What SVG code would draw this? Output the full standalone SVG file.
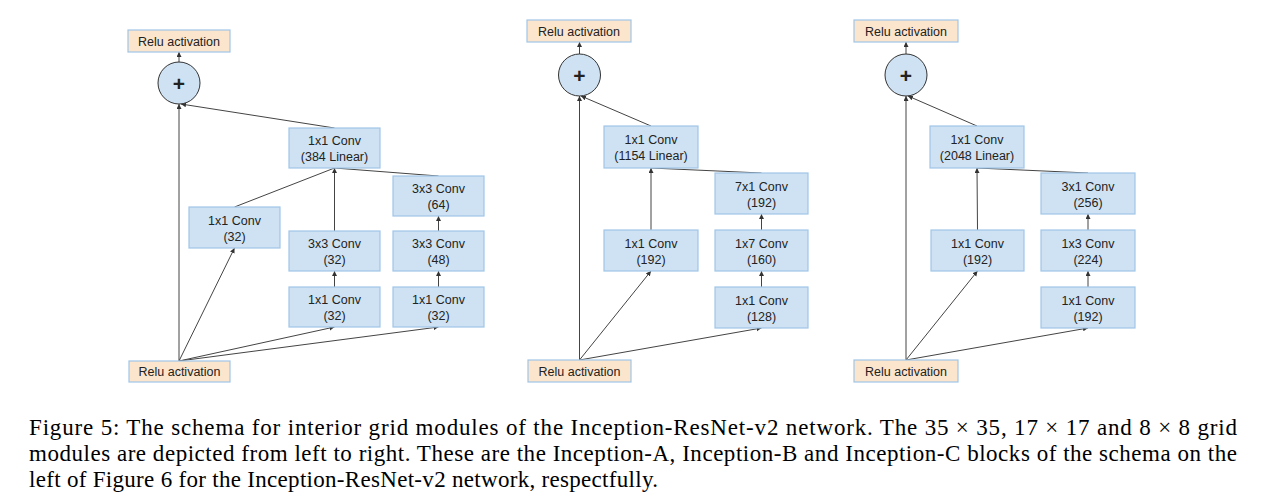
<svg xmlns="http://www.w3.org/2000/svg" width="1272" height="497" viewBox="0 0 1272 497">
<style>
.box{fill:#cfe2f3;stroke:#9fc5e8;stroke-width:1.2}
.relu{fill:#fce5cd;stroke:#9fc5e8;stroke-width:1.2}
.add{fill:#cfe2f3;stroke:#333;stroke-width:1}
.t{font-family:"Liberation Sans",Arial,sans-serif;font-size:12.5px;fill:#222;text-anchor:middle}
.plus{font-family:"Liberation Sans",Arial,sans-serif;font-size:21px;font-weight:bold;fill:#222;text-anchor:middle}
.c{fill:none;stroke:#444;stroke-width:1}
.a{marker-end:url(#ah)}
.cap{font-family:"Liberation Serif","Times New Roman",serif;font-size:23px;fill:#000}
</style>
<defs>
<marker id="ah" markerUnits="userSpaceOnUse" markerWidth="6" markerHeight="6" refX="5" refY="2.5" orient="auto">
<path d="M0,0 L5,2.5 L0,5 z" fill="#333"/>
</marker>
</defs>
<rect width="1272" height="497" fill="#fff"/>
<g id="connectors">
<path class="c a" d="M179,361 L179,104"/>
<path class="c a" d="M179,361 L234.5,248"/>
<path class="c a" d="M179,361 L334.5,327"/>
<path class="c a" d="M179,361 L438.5,327"/>
<path class="c a" d="M334.5,287 L334.5,271"/>
<path class="c a" d="M438.5,287 L438.5,271"/>
<path class="c a" d="M438.5,231 L438.5,216"/>
<path class="c" d="M234.5,207 L334.5,168"/>
<path class="c a" d="M334.5,231 L334.5,168"/>
<path class="c" d="M438.5,176 L334.5,168"/>
<path class="c a" d="M334.5,128 L181,104"/>
<path class="c a" d="M179,62 L179,52"/>
<path class="c a" d="M579.5,360 L579.5,96"/>
<path class="c a" d="M579.5,360 L651,271"/>
<path class="c a" d="M579.5,360 L761.5,328"/>
<path class="c a" d="M761.5,287 L761.5,271"/>
<path class="c a" d="M761.5,230 L761.5,214"/>
<path class="c a" d="M651,230 L651,168"/>
<path class="c" d="M761.5,173 L651,168"/>
<path class="c a" d="M651,126 L581,96"/>
<path class="c a" d="M579.5,54 L579.5,42"/>
<path class="c a" d="M906,360 L906,96"/>
<path class="c a" d="M906,360 L977.5,271"/>
<path class="c a" d="M906,360 L1088,328"/>
<path class="c a" d="M1088,287 L1088,271"/>
<path class="c a" d="M1088,230 L1088,214"/>
<path class="c a" d="M977.5,230 L977,168"/>
<path class="c" d="M1088,173 L977,168"/>
<path class="c a" d="M977,126 L908,96"/>
<path class="c a" d="M906,54 L906,42"/>
</g>
<g id="a_relu_top"><rect class="relu" x="128" y="30" width="102" height="22"/><text class="t" x="179" y="46">Relu activation</text></g>
<g id="a_add"><circle class="add" cx="179" cy="83" r="21"/><text class="plus" x="179" y="90.5">+</text></g>
<g id="a_lin"><rect class="box" x="289" y="128" width="91" height="40"/><text class="t" x="334.5" y="145">1x1 Conv</text><text class="t" x="334.5" y="160.5">(384 Linear)</text></g>
<g id="a_c64"><rect class="box" x="393" y="176" width="91" height="40"/><text class="t" x="438.5" y="193">3x3 Conv</text><text class="t" x="438.5" y="208.5">(64)</text></g>
<g id="a_b1"><rect class="box" x="189" y="207" width="91" height="41"/><text class="t" x="234.5" y="225">1x1 Conv</text><text class="t" x="234.5" y="240.5">(32)</text></g>
<g id="a_c3_32"><rect class="box" x="289" y="231" width="91" height="40"/><text class="t" x="334.5" y="248">3x3 Conv</text><text class="t" x="334.5" y="263.5">(32)</text></g>
<g id="a_c3_48"><rect class="box" x="393" y="231" width="91" height="40"/><text class="t" x="438.5" y="248">3x3 Conv</text><text class="t" x="438.5" y="263.5">(48)</text></g>
<g id="a_c1_m"><rect class="box" x="289" y="287" width="91" height="40"/><text class="t" x="334.5" y="304">1x1 Conv</text><text class="t" x="334.5" y="319.5">(32)</text></g>
<g id="a_c1_r"><rect class="box" x="393" y="287" width="91" height="40"/><text class="t" x="438.5" y="304">1x1 Conv</text><text class="t" x="438.5" y="319.5">(32)</text></g>
<g id="a_relu_bot"><rect class="relu" x="129" y="361" width="101" height="21"/><text class="t" x="179.5" y="376">Relu activation</text></g>
<g id="b_relu_top"><rect class="relu" x="527" y="20" width="104" height="22"/><text class="t" x="579" y="36">Relu activation</text></g>
<g id="b_add"><circle class="add" cx="579.5" cy="75" r="21"/><text class="plus" x="579.5" y="82.5">+</text></g>
<g id="b_lin"><rect class="box" x="604" y="126" width="94" height="42"/><text class="t" x="651" y="144">1x1 Conv</text><text class="t" x="651" y="160">(1154 Linear)</text></g>
<g id="b_c71"><rect class="box" x="715" y="173" width="93" height="41"/><text class="t" x="761.5" y="191">7x1 Conv</text><text class="t" x="761.5" y="206.5">(192)</text></g>
<g id="b_c1"><rect class="box" x="604" y="230" width="94" height="41"/><text class="t" x="651" y="248">1x1 Conv</text><text class="t" x="651" y="263.5">(192)</text></g>
<g id="b_c17"><rect class="box" x="715" y="230" width="93" height="41"/><text class="t" x="761.5" y="248">1x7 Conv</text><text class="t" x="761.5" y="263.5">(160)</text></g>
<g id="b_c1r"><rect class="box" x="715" y="287" width="93" height="41"/><text class="t" x="761.5" y="305">1x1 Conv</text><text class="t" x="761.5" y="320.5">(128)</text></g>
<g id="b_relu_bot"><rect class="relu" x="528" y="360" width="103" height="22"/><text class="t" x="579.5" y="376">Relu activation</text></g>
<g id="c_relu_top"><rect class="relu" x="854" y="20" width="104" height="22"/><text class="t" x="906" y="36">Relu activation</text></g>
<g id="c_add"><circle class="add" cx="906" cy="75" r="21"/><text class="plus" x="906" y="82.5">+</text></g>
<g id="c_lin"><rect class="box" x="930" y="126" width="94" height="42"/><text class="t" x="977" y="144">1x1 Conv</text><text class="t" x="977" y="160">(2048 Linear)</text></g>
<g id="c_c31"><rect class="box" x="1041" y="173" width="94" height="41"/><text class="t" x="1088" y="191">3x1 Conv</text><text class="t" x="1088" y="206.5">(256)</text></g>
<g id="c_c1"><rect class="box" x="931" y="230" width="93" height="41"/><text class="t" x="977.5" y="248">1x1 Conv</text><text class="t" x="977.5" y="263.5">(192)</text></g>
<g id="c_c13"><rect class="box" x="1041" y="230" width="94" height="41"/><text class="t" x="1088" y="248">1x3 Conv</text><text class="t" x="1088" y="263.5">(224)</text></g>
<g id="c_c1r"><rect class="box" x="1041" y="287" width="94" height="41"/><text class="t" x="1088" y="305">1x1 Conv</text><text class="t" x="1088" y="320.5">(192)</text></g>
<g id="c_relu_bot"><rect class="relu" x="854" y="360" width="104" height="22"/><text class="t" x="906" y="376">Relu activation</text></g>
<g id="caption">
<text class="cap" x="29" y="434.5" textLength="1208" lengthAdjust="spacing">Figure 5: The schema for interior grid modules of the Inception-ResNet-v2 network. The 35 × 35, 17 × 17 and 8 × 8 grid</text>
<text class="cap" x="29" y="460.5" textLength="1208" lengthAdjust="spacing">modules are depicted from left to right. These are the Inception-A, Inception-B and Inception-C blocks of the schema on the</text>
<text class="cap" x="29" y="486.5" textLength="629" lengthAdjust="spacing">left of Figure 6 for the Inception-ResNet-v2 network, respectfully.</text>
</g>
</svg>
